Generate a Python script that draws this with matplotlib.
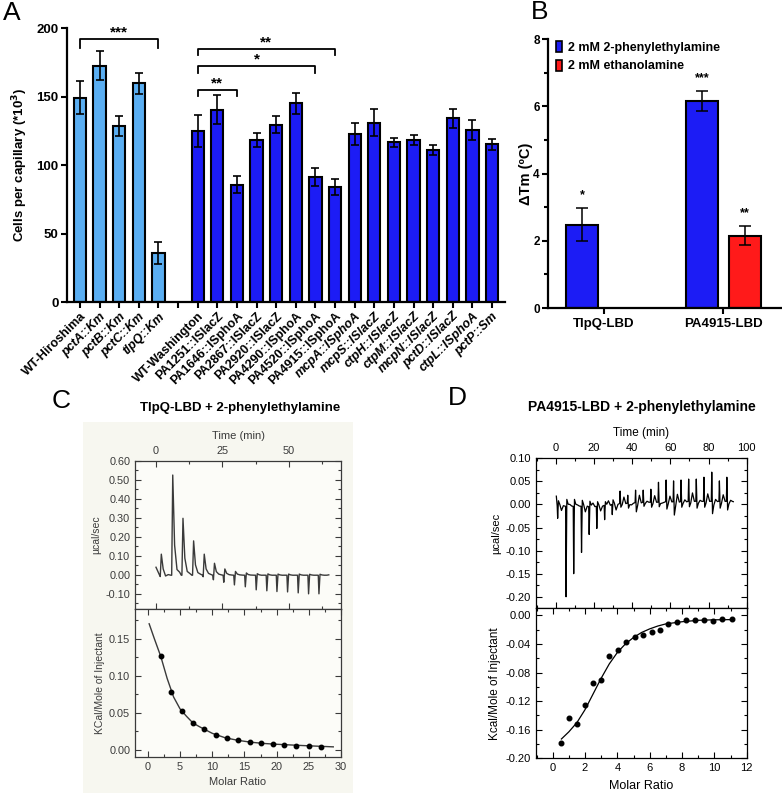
import numpy as np
import matplotlib
matplotlib.use('Agg')
import matplotlib.pyplot as plt
from matplotlib.patches import Patch, Rectangle
from matplotlib.ticker import MultipleLocator

plt.rcParams['font.family'] = ['Liberation Sans', 'DejaVu Sans']

# ---------------- data ----------------
# Panel A: chemotaxis (cells per capillary, x10^3)
labels_hiro = ['WT-Hiroshima', 'pctA::Km', 'pctB::Km', 'pctC::Km', 'tlpQ::Km']
cells_hiro = [149, 172.5, 128.5, 159.5, 35.5]
err_hiro = [12, 10.5, 7.5, 8, 8]

labels_wash = ['WT-Washington', 'PA1251::ISlacZ', 'PA1646::ISphoA', 'PA2867::ISlacZ',
               'PA2920::ISlacZ', 'PA4290::ISphoA', 'PA4520::ISphoA', 'PA4915::ISphoA',
               'mcpA::ISphoA', 'mcpS::ISlacZ', 'ctpH::ISlacZ', 'ctpM::ISlacZ',
               'mcpN::ISlacZ', 'pctD::ISlacZ', 'ctpL::ISphoA', 'pctP::Sm']
cells_wash = [124.8, 140.4, 85.6, 118.5, 129.4, 145, 91.5, 84.2,
              122.9, 131, 116.5, 118, 111, 134, 125.5, 115]
err_wash = [12, 10.4, 6.1, 5, 6.4, 7.8, 6.6, 5.8,
            8, 10, 3.5, 3.6, 3.8, 7, 7.3, 4.2]

# significance brackets: (first bar, last bar, height, drop, label)
brackets_A = [(0, 4, 192, 6.5, '***'),
              (6, 13, 184.5, 4.5, '**'),
              (6, 12, 172.5, 5.5, '*'),
              (6, 8, 155, 4.5, '**')]

# Panel B: thermal shift
groups_B = ['TlpQ-LBD', 'PA4915-LBD']
dtm_phenyl = [2.48, 6.15]
dtm_phenyl_err = [0.5, 0.3]
dtm_ethanol = [None, 2.15]
dtm_ethanol_err = [None, 0.29]
stars_phenyl = ['*', '***']
stars_ethanol = ['', '**']

# Panel C: ITC TlpQ-LBD, raw thermogram (time in min, ucal/s)
c_inj_t = [1.6, 5.9, 9.75, 13.75, 17.75, 21.6, 25.5, 29.5, 33.6, 37.7,
           41.7, 45.5, 49.5, 53.5, 57.4, 61.3]
c_peak = [0.109, 0.526, 0.298, 0.179, 0.109, 0.061, 0.031, 0.018, 0.010, 0.006,
          0.005, 0.004, 0.004, 0.004, 0.003, 0.003]
c_dip = [-0.009, -0.002, -0.002, -0.002, -0.010, -0.026, -0.039, -0.053, -0.063, -0.079,
         -0.084, -0.088, -0.090, -0.095, -0.100, -0.100]
c_mid = [-0.004, 0.030, 0.020, 0.014, 0.010, 0.006, 0.003, 0.002, 0.001, 0.0,
         0.0, 0.0, 0.0, 0.0, 0.0, 0.0]
c_start = (0.0, 0.04)
c_end = (65.0, 0.0)
c_base = -0.002
# integrated heats
c_ratio = [1.97, 3.63, 5.29, 7.06, 8.77, 10.53, 12.3, 14.06, 15.83, 17.64,
           19.4, 21.17, 23.04, 25.0, 26.9]
c_heat = [0.1267, 0.0774, 0.0525, 0.0362, 0.0276, 0.0204, 0.0154, 0.0127, 0.0104, 0.0086,
          0.0072, 0.0063, 0.0054, 0.0045, 0.0041]
c_fit_x = [0.2, 1.0, 2.0, 3.0, 4.0, 5.0, 6.0, 7.0, 8.0, 10.0, 12.0, 14.0, 16.0,
           18.0, 20.0, 24.0, 28.8]
c_fit_y = [0.170, 0.150, 0.126, 0.096, 0.071, 0.055, 0.045, 0.036, 0.031, 0.022,
           0.016, 0.0125, 0.010, 0.0083, 0.0072, 0.0055, 0.0037]

# Panel D: ITC PA4915-LBD
d_inj_t = [1.0, 5.4, 9.4, 13.5, 17.5, 21.5, 25.6, 29.6, 33.7, 37.7, 41.8, 45.8,
           49.8, 53.8, 57.8, 61.7, 65.6, 69.6, 73.6, 77.6, 81.7, 85.7, 89.6]
d_spike = [-0.030, -0.200, -0.150, -0.104, -0.065, -0.052, -0.033, -0.022, 0.029, 0.020,
           0.031, 0.031, 0.033, 0.048, 0.053, 0.051, 0.053, 0.055, 0.055, 0.059,
           0.070, 0.051, 0.059]
d_after = [0.008, 0.011, 0.011, 0.009, 0.007, 0.006, 0.006, 0.010, -0.006, -0.008,
           -0.016, -0.004, -0.006, -0.005, -0.010, -0.023, -0.006, -0.005, -0.008, -0.006,
           -0.020, -0.008, -0.012]
d_mid = [-0.010, 0.004, 0.003, -0.012, 0.008, -0.010, 0.010, -0.012, 0.014, -0.004,
         0.016, 0.002, 0.014, -0.002, 0.012, 0.016, 0.004, 0.018, 0.002, 0.016,
         0.004, 0.014, 0.002]
d_base = [-0.003, -0.004, -0.004, -0.004, -0.005, -0.004, -0.002, 0.0, 0.002, 0.003,
          0.004, 0.005, 0.005, 0.005, 0.006, 0.006, 0.006, 0.007, 0.007, 0.007,
          0.007, 0.007, 0.007]
d_start = (0.3, 0.018)
d_end = (93.0, 0.006)
d_ratio = [0.54, 1.03, 1.53, 2.02, 2.52, 3.01, 3.51, 4.02, 4.54, 5.07, 5.59,
           6.12, 6.64, 7.15, 7.71, 8.27, 8.80, 9.38, 9.94, 10.47, 11.07]
d_heat = [-0.179, -0.144, -0.152, -0.125, -0.095, -0.090, -0.057, -0.048, -0.037, -0.030,
          -0.027, -0.024, -0.020, -0.012, -0.009, -0.007, -0.006, -0.007, -0.0075,
          -0.005, -0.005]
d_fit_x = [0.54, 1.0, 1.5, 2.0, 2.5, 3.0, 3.5, 4.0, 4.5, 5.0, 5.5, 6.0, 6.5,
           7.0, 8.0, 9.0, 10.0, 11.1]
d_fit_y = [-0.173, -0.163, -0.150, -0.132, -0.110, -0.088, -0.068, -0.052, -0.040,
           -0.031, -0.024, -0.019, -0.015, -0.012, -0.009, -0.007, -0.0063, -0.006]

LIGHT = '#5aaef2'
BLUE = '#1c1cf5'
RED = '#ff1a1a'

W, H = 782, 793


def box(l, t, r, b):
    return [l / W, 1 - b / H, (r - l) / W, (b - t) / H]


def raw_trace(start, end, times, extremes, seconds, mids, base):
    # polyline through read injection extremes, rebound and mid-interval wiggle
    ts, vs = [start[0]], [start[1]]
    for t, e, s, m, b in zip(times, extremes, seconds, mids, base):
        ts += [t - 0.25, t, t + 0.4, t + 1.1, t + 2.0, t + 3.0]
        vs += [b, e, s, b + 0.3 * (s - b), b + m, b + 0.03 * (s - b)]
    ts.append(end[0])
    vs.append(end[1])
    return ts, vs


fig = plt.figure(figsize=(W / 100, H / 100), dpi=100)

# ---------------- A ----------------
axA = fig.add_axes(box(67, 28, 505, 302))
x_hiro = np.arange(len(labels_hiro))
x_wash = np.arange(len(labels_wash)) + len(labels_hiro) + 1
ekw = dict(ecolor='black', elinewidth=1.2, capsize=3, capthick=1.2)
axA.bar(x_hiro, cells_hiro, width=0.62, color=LIGHT, edgecolor='black', linewidth=1.5,
        yerr=err_hiro, error_kw=ekw)
axA.bar(x_wash, cells_wash, width=0.62, color=BLUE, edgecolor='black', linewidth=1.5,
        yerr=err_wash, error_kw=ekw)
axA.set_xlim(-0.66, 21.66)
axA.set_ylim(0, 200)
axA.set_yticks([0, 50, 100, 150, 200])
all_x = np.arange(len(labels_hiro) + 1 + len(labels_wash))
all_labels = labels_hiro + [''] + labels_wash
axA.set_xticks(all_x)
axA.set_xticklabels(all_labels, rotation=45, ha='right', rotation_mode='anchor',
                    fontsize=9, fontweight='bold')
for lab in axA.get_xticklabels():
    txt = lab.get_text()
    if not (txt.startswith('WT') or txt.startswith('PA')):
        lab.set_style('italic')
axA.tick_params(axis='y', labelsize=9.5)
for lab in axA.get_yticklabels():
    lab.set_fontweight('bold')
axA.tick_params(axis='both', direction='out', length=4, width=1.5)
axA.tick_params(axis='x', pad=2)
axA.tick_params(axis='y', pad=2)
for s in ['top', 'right']:
    axA.spines[s].set_visible(False)
for s in ['left', 'bottom']:
    axA.spines[s].set_linewidth(1.6)
axA.set_ylabel('Cells per capillary (*10$^\\mathbf{3}$)', fontsize=9.5, fontweight='bold',
               labelpad=5)
for i0, i1, yb, drop, star in brackets_A:
    xa = all_x[i0]
    xb = all_x[i1]
    axA.plot([xa, xa, xb, xb], [yb - drop, yb, yb, yb - drop], color='black', lw=1.3,
             clip_on=False)
    axA.text((xa + xb) / 2, yb - 0.5, star, ha='center', va='bottom', fontsize=11,
             fontweight='bold')

# ---------------- B ----------------
axB = fig.add_axes(box(548, 39, 782, 308))
xg = np.arange(len(groups_B))
off = 0.181
bw = 0.27
axB.bar(xg - off, dtm_phenyl, bw, color=BLUE, edgecolor='black', linewidth=1.5,
        yerr=dtm_phenyl_err, error_kw=dict(ecolor='black', elinewidth=1.1, capsize=4,
                                           capthick=1.1))
eth_x = [x + off for x, v in zip(xg, dtm_ethanol) if v is not None]
eth_v = [v for v in dtm_ethanol if v is not None]
eth_e = [e for e in dtm_ethanol_err if e is not None]
axB.bar(eth_x, eth_v, bw, color=RED, edgecolor='black', linewidth=1.5,
        yerr=eth_e, error_kw=dict(ecolor='black', elinewidth=1.1, capsize=4, capthick=1.1))
for x, v, e, s in zip(xg - off, dtm_phenyl, dtm_phenyl_err, stars_phenyl):
    axB.text(x, v + e + 0.2, s, ha='center', va='bottom', fontsize=9, fontweight='bold')
for x, v, e, s in zip(xg + off, dtm_ethanol, dtm_ethanol_err, stars_ethanol):
    if v is not None:
        axB.text(x, v + e + 0.2, s, ha='center', va='bottom', fontsize=9, fontweight='bold')
axB.set_xlim(-0.468, 1.49)
axB.set_ylim(0, 8)
axB.set_xticks(xg)
axB.set_xticklabels(groups_B, fontsize=9.5, fontweight='bold')
axB.set_yticks([0, 2, 4, 6, 8])
axB.yaxis.set_minor_locator(MultipleLocator(1))
axB.tick_params(axis='y', labelsize=8.5)
for lab in axB.get_yticklabels():
    lab.set_fontweight('bold')
axB.tick_params(axis='both', which='both', direction='out', width=1.5)
axB.tick_params(axis='both', which='major', length=4)
axB.tick_params(axis='y', which='minor', length=3)
axB.tick_params(axis='y', pad=2)
axB.tick_params(axis='x', pad=3)
for s in ['top', 'right']:
    axB.spines[s].set_visible(False)
for s in ['left', 'bottom']:
    axB.spines[s].set_linewidth(1.6)
axB.set_ylabel('ΔTm (ºC)', fontsize=10.5, fontweight='bold', labelpad=0)
handles = [Patch(facecolor=BLUE, edgecolor='black', linewidth=1.2),
           Patch(facecolor=RED, edgecolor='black', linewidth=1.2)]
axB.legend(handles, ['2 mM 2-phenylethylamine', '2 mM ethanolamine'], loc='upper left',
           bbox_to_anchor=(0.0, 1.02), frameon=False, handlelength=0.55, handleheight=1.0,
           handletextpad=0.45, labelspacing=0.45, borderaxespad=0.2,
           prop=dict(weight='bold', size=9))

# ---------------- C ----------------
fig.patches.append(Rectangle((83 / W, 0), (353 - 83) / W, 1 - 422 / H,
                             transform=fig.transFigure, facecolor='#f7f7f0',
                             edgecolor='none', zorder=-5))
GRAY = '#3a3a3a'


def itc_style(ax, top, lsize, spine_col):
    ax.set_facecolor('#fcfcf8' if spine_col == GRAY else 'white')
    ax.tick_params(which='both', direction='in', top=True, right=True, colors=spine_col,
                   labelsize=lsize, width=0.8)
    ax.tick_params(which='major', length=4)
    ax.tick_params(which='minor', length=2)
    ax.tick_params(labeltop=top, labelbottom=not top, labelcolor=spine_col)
    for s in ax.spines.values():
        s.set_color(spine_col)
        s.set_linewidth(0.9)


axCt = fig.add_axes(box(135, 461, 341, 609))
tc, vc = raw_trace(c_start, c_end, c_inj_t, c_dip, c_peak, c_mid, [c_base] * len(c_inj_t))
axCt.plot(tc, vc, color=GRAY, lw=1.0)
axCt.set_xlim(-7.9, 69.6)
axCt.set_ylim(-0.18, 0.60)
axCt.set_xticks([0, 25, 50])
axCt.xaxis.set_minor_locator(MultipleLocator(12.5))
axCt.set_yticks(np.arange(-0.1, 0.61, 0.1))
axCt.set_yticklabels(['%.2f' % v for v in np.arange(-0.1, 0.61, 0.1)])
axCt.yaxis.set_minor_locator(MultipleLocator(0.05))
itc_style(axCt, True, 7.8, GRAY)
axCt.xaxis.set_label_position('top')
axCt.set_xlabel('Time (min)', fontsize=8, color=GRAY, labelpad=5)
axCt.set_ylabel('µcal/sec', fontsize=7.5, color=GRAY, labelpad=3)

axCb = fig.add_axes(box(135, 609, 341, 757))
axCb.plot(c_fit_x, c_fit_y, color=GRAY, lw=1.0)
axCb.plot(c_ratio, c_heat, 'o', color='black', ms=3.2)
axCb.set_xlim(-2.0, 30)
axCb.set_ylim(-0.01, 0.19)
axCb.set_xticks(np.arange(0, 31, 5))
axCb.xaxis.set_minor_locator(MultipleLocator(2.5))
axCb.set_yticks([0.0, 0.05, 0.10, 0.15])
axCb.set_yticklabels(['0.00', '0.05', '0.10', '0.15'])
axCb.yaxis.set_minor_locator(MultipleLocator(0.025))
itc_style(axCb, False, 7.8, GRAY)
axCb.set_xlabel('Molar Ratio', fontsize=8, color=GRAY, labelpad=4)
axCb.set_ylabel('KCal/Mole of Injectant', fontsize=7.5, color=GRAY, labelpad=3)

fig.text(240 / W, 1 - 408 / H, 'TlpQ-LBD + 2-phenylethylamine', ha='center', va='center',
         fontsize=9.5, fontweight='bold')

# ---------------- D ----------------
axDt = fig.add_axes(box(535.7, 458.3, 746.7, 608.3))
td, vd = raw_trace(d_start, d_end, d_inj_t, d_spike, d_after, d_mid, d_base)
axDt.plot(td, vd, color='black', lw=0.9)
axDt.set_xlim(-10.5, 100)
axDt.set_ylim(-0.225, 0.10)
axDt.set_xticks(np.arange(0, 101, 20))
axDt.xaxis.set_minor_locator(MultipleLocator(10))
yt = np.arange(-0.20, 0.101, 0.05)
axDt.set_yticks(yt)
axDt.set_yticklabels(['%.2f' % v if abs(v) > 1e-9 else '0.00' for v in yt])
axDt.yaxis.set_minor_locator(MultipleLocator(0.025))
itc_style(axDt, True, 8, 'black')
axDt.xaxis.set_label_position('top')
axDt.set_xlabel('Time (min)', fontsize=8.5, labelpad=5)
axDt.set_ylabel('µcal/sec', fontsize=8, labelpad=3)

axDb = fig.add_axes(box(535.7, 608.3, 746.7, 758.3))
axDb.plot(d_fit_x, d_fit_y, color='black', lw=0.9)
axDb.plot(d_ratio, d_heat, 'o', color='black', ms=3.3)
axDb.set_xlim(-1.05, 12)
axDb.set_ylim(-0.20, 0.0098)
axDb.set_xticks(np.arange(0, 13, 2))
axDb.xaxis.set_minor_locator(MultipleLocator(1))
yb = [-0.20, -0.16, -0.12, -0.08, -0.04, 0.0]
axDb.set_yticks(yb)
axDb.set_yticklabels(['-0.20', '-0.16', '-0.12', '-0.08', '-0.04', '0.00'])
axDb.yaxis.set_minor_locator(MultipleLocator(0.02))
itc_style(axDb, False, 8, 'black')
axDb.set_xlabel('Molar Ratio', fontsize=9, labelpad=5)
axDb.set_ylabel('Kcal/Mole of Injectant', fontsize=8.5, labelpad=3)

fig.text(642 / W, 1 - 407 / H, 'PA4915-LBD + 2-phenylethylamine', ha='center', va='center',
         fontsize=10, fontweight='bold')

# panel letters
for lx, ly, letter in [(12, 13, 'A'), (540, 12, 'B'), (61, 401, 'C'), (457, 398, 'D')]:
    fig.text(lx / W, 1 - ly / H, letter, ha='center', va='center', fontsize=19)

fig.savefig('out.png', dpi=100)
